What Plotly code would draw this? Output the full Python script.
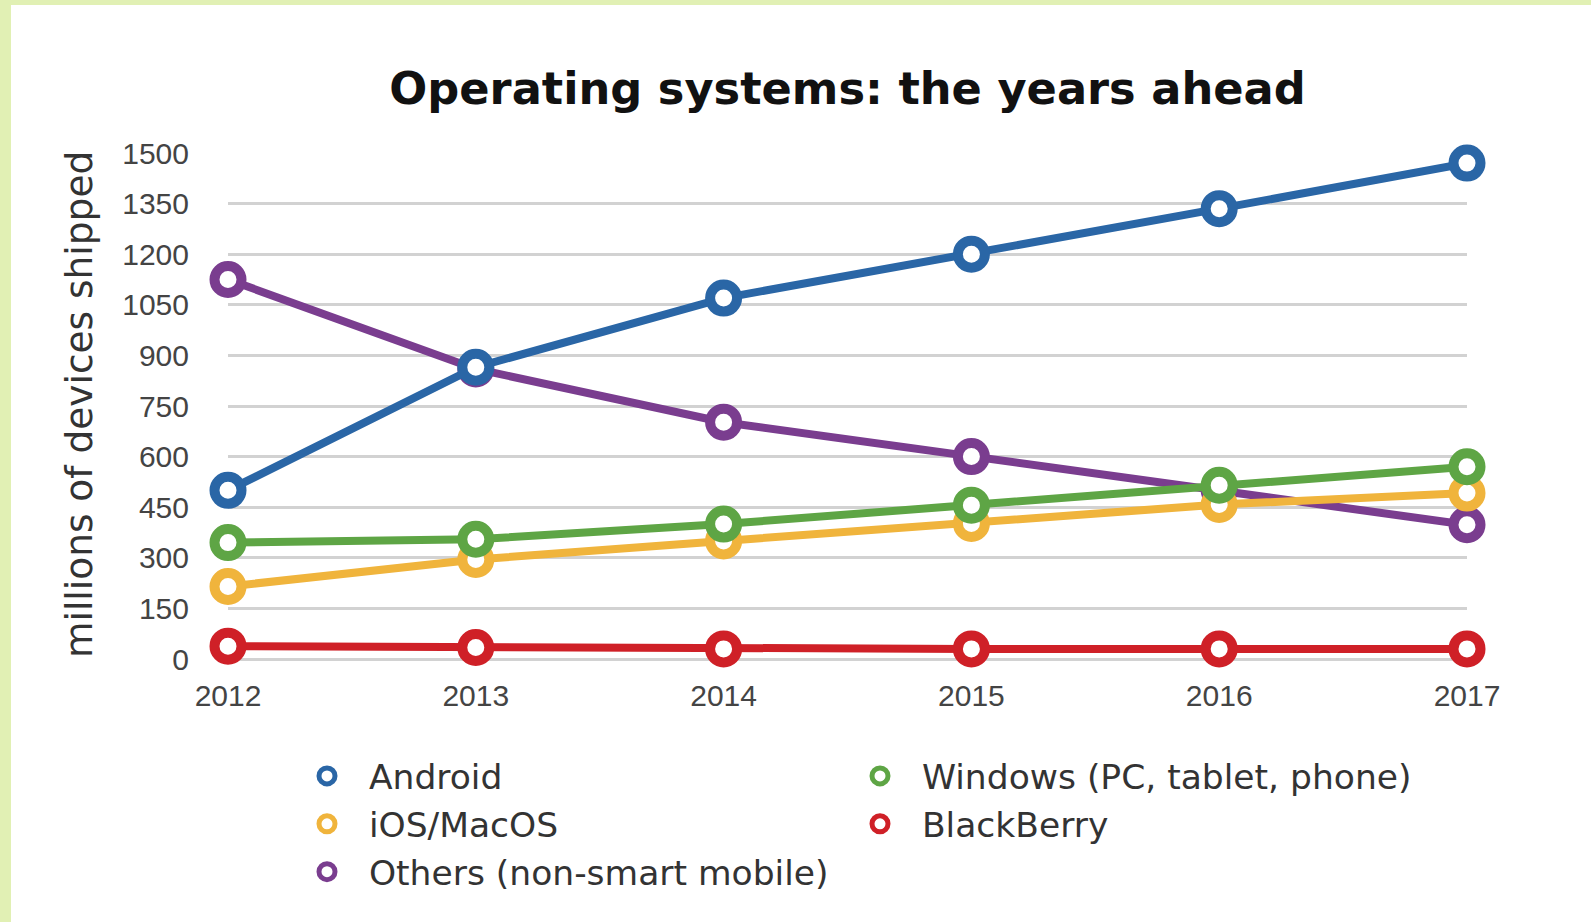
import plotly.graph_objects as go

years = [2012, 2013, 2014, 2015, 2016, 2017]
android = [500, 865, 1070, 1200, 1335, 1470]
ios_macos = [215, 295, 350, 402, 458, 492]
windows = [345, 355, 400, 456, 515, 570]
blackberry = [38, 34, 30, 30, 30, 30]
others = [1125, 860, 702, 600, 500, 398]
y_ticks = [0, 150, 300, 450, 600, 750, 900, 1050, 1200, 1350, 1500]

series = {
    "Android": (android, "#2a66a6"),
    "iOS/MacOS": (ios_macos, "#f0b43c"),
    "Others (non-smart mobile)": (others, "#7a3d8f"),
    "Windows (PC, tablet, phone)": (windows, "#5ea545"),
    "BlackBerry": (blackberry, "#cf2027"),
}

W, H = 1591, 922
L, R, T, B = 228, 124, 153, 263
PW, PH = W - L - R, H - T - B

def px(x):
    return (x - L) / PW

def py(y):
    return (H - B - y) / PH

fig = go.Figure()

draw_order = ["BlackBerry", "Others (non-smart mobile)", "iOS/MacOS",
              "Windows (PC, tablet, phone)", "Android"]
for name in draw_order:
    vals, col = series[name]
    fig.add_trace(go.Scatter(
        x=years, y=vals, mode="lines+markers", name=name, showlegend=False,
        line=dict(color=col, width=8),
        marker=dict(symbol="circle", size=27, color="white",
                    line=dict(color=col, width=10)),
        cliponaxis=False,
    ))

legend_cols = {
    "legend": ["Android", "iOS/MacOS", "Others (non-smart mobile)"],
    "legend2": ["Windows (PC, tablet, phone)", "BlackBerry"],
}
for lg, names in legend_cols.items():
    for name in names:
        col = series[name][1]
        fig.add_trace(go.Scatter(
            x=[None], y=[None], mode="markers", name="\u00a0\u00a0" + name, legend=lg,
            marker=dict(symbol="circle", size=16, color="white",
                        line=dict(color=col, width=5)),
        ))

legend_font = dict(family="DejaVu Sans", size=34.5, color="#333333")
fig.update_layout(
    width=W, height=H, autosize=False,
    margin=dict(l=L, r=R, t=T, b=B),
    paper_bgcolor="#e1f0b4",
    plot_bgcolor="rgba(0,0,0,0)",
    title=dict(text="Operating systems: the years ahead",
               font=dict(family="DejaVu Sans", size=44.7, color="#111111", weight="bold"),
               x=0.5, xref="paper", xanchor="center",
               y=1 - 88 / H, yref="container", yanchor="middle"),
    xaxis=dict(range=[2012, 2017], tickvals=years, ticktext=[str(y) for y in years],
               showgrid=False, zeroline=False, showline=False, ticks="",
               tickfont=dict(family="Liberation Sans", size=30, color="#444444"),
               ticklabelstandoff=16, fixedrange=True),
    yaxis=dict(range=[0, 1500], tickvals=y_ticks, showgrid=True,
               gridcolor="#d2d2d2", gridwidth=3, zeroline=True,
               zerolinecolor="#d2d2d2", zerolinewidth=3, showline=False, ticks="",
               tickfont=dict(family="Liberation Sans", size=30, color="#444444"),
               ticklabelstandoff=38, fixedrange=True),
    legend=dict(x=px(307), y=py(747), xanchor="left", yanchor="top",
                orientation="v", font=legend_font, bgcolor="rgba(0,0,0,0)",
                itemsizing="trace"),
    legend2=dict(x=px(860), y=py(747), xanchor="left", yanchor="top",
                 orientation="v", font=legend_font, bgcolor="rgba(0,0,0,0)",
                 itemsizing="trace"),
    shapes=[dict(type="rect", xref="paper", yref="paper",
                 x0=px(11), x1=px(W + 10), y0=py(H + 10), y1=py(5),
                 fillcolor="white", line=dict(width=0), layer="below")],
    annotations=[dict(text="millions of devices shipped", textangle=-90,
                      xref="paper", yref="paper", x=px(79), y=py(405),
                      xanchor="center", yanchor="middle", showarrow=False,
                      font=dict(family="DejaVu Sans", size=37.5, color="#333333"))],
)

fig.write_html("out.html")
